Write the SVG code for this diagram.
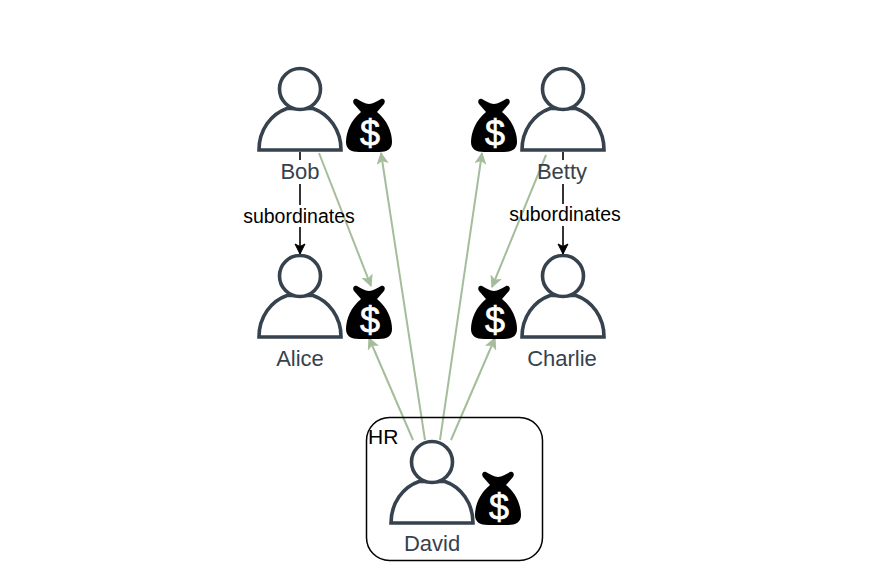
<svg xmlns="http://www.w3.org/2000/svg" width="880" height="578" viewBox="0 0 880 578">
<style>
text{font-family:"Liberation Sans",Arial,sans-serif}
.name{font-size:22px;fill:#36424d;text-anchor:middle}
.sub{font-size:19.500px;fill:#000;text-anchor:middle}
.dollar{font-size:36px;fill:#fff;stroke:#fff;stroke-width:.7;text-anchor:middle}
.p{fill:#fff;stroke:#36424d;stroke-width:3.600}
.g{fill:none;stroke:#a5bd9b;stroke-width:2;marker-end:url(#ga)}
.k{fill:none;stroke:#000;stroke-width:1.600;marker-end:url(#ka)}
</style>
<defs>
<marker id="ga" viewBox="0 0 12 12" refX="11" refY="6" markerWidth="12" markerHeight="12" markerUnits="userSpaceOnUse" orient="auto"><path d="M1 1L11 6L1 11L3.500 6Z" fill="#a5bd9b" stroke="#a5bd9b"/></marker>
<marker id="ka" viewBox="0 0 12 12" refX="11" refY="6" markerWidth="12" markerHeight="12" markerUnits="userSpaceOnUse" orient="auto"><path d="M1 1L11 6L1 11L3.500 6Z" fill="#000" stroke="#000"/></marker>
<g id="person">
<path class="p" d="M-41 0C-41-20-29-36-13-41.500H13C29-36 41-20 41 0Z"/>
<circle class="p" cx="0" cy="-61" r="20.500"/>
</g>
<path id="bag" fill="#000" d="M-12-52C-8-50-4-47 0-47C4-47 8-50 12-52C15-53 17-50 15-47L8-39C18-31 23-19 23-9C23-2 18 1 10 1H-10C-18 1-23-2-23-9C-23-19-18-31-8-39L-15-47C-17-50-15-53-12-52Z"/>
</defs>
<g id="connectors">
<path class="k" d="M300 152V254"/>
<path class="k" d="M563 152V254"/>
<rect x="243" y="205" width="112" height="22" fill="#fff"/>
<rect x="509" y="204" width="112" height="22" fill="#fff"/>
<rect x="280" y="160" width="40" height="24" fill="#fff"/>
<rect x="536" y="160" width="54" height="24" fill="#fff"/>
<path class="g" d="M319 153L371 286"/>
<path class="g" d="M425 440L381 153"/>
<path class="g" d="M440 440L482 153"/>
<path class="g" d="M546 155L492 287"/>
<path class="g" d="M413 440L369 338"/>
<path class="g" d="M451 440L495 338"/>
<text class="sub" x="299" y="223">subordinates</text>
<text class="sub" x="565" y="221">subordinates</text>
</g>
<g id="bob"><use href="#person" x="300" y="150"/><text class="name" x="300" y="179">Bob</text></g>
<g id="bob-money"><use href="#bag" x="369" y="151"/><text class="dollar" x="370" y="146">$</text></g>
<g id="alice"><use href="#person" x="300" y="337"/><text class="name" x="300" y="366">Alice</text></g>
<g id="alice-money"><use href="#bag" x="369" y="338"/><text class="dollar" x="370" y="333">$</text></g>
<g id="betty"><use href="#person" x="563" y="150"/><text class="name" x="562" y="179">Betty</text></g>
<g id="betty-money"><use href="#bag" x="494" y="151"/><text class="dollar" x="495" y="146">$</text></g>
<g id="charlie"><use href="#person" x="563" y="337"/><text class="name" x="562" y="366">Charlie</text></g>
<g id="charlie-money"><use href="#bag" x="494" y="338"/><text class="dollar" x="495" y="333">$</text></g>
<g id="hr"><rect x="366.500" y="417.500" width="176" height="143" rx="23" fill="none" stroke="#000" stroke-width="1.500"/><text x="368" y="444" font-size="21" fill="#000">HR</text></g>
<g id="david"><use href="#person" x="432" y="523"/><text class="name" x="432" y="551">David</text></g>
<g id="david-money"><use href="#bag" x="498" y="524"/><text class="dollar" x="499" y="520">$</text></g>
</svg>
